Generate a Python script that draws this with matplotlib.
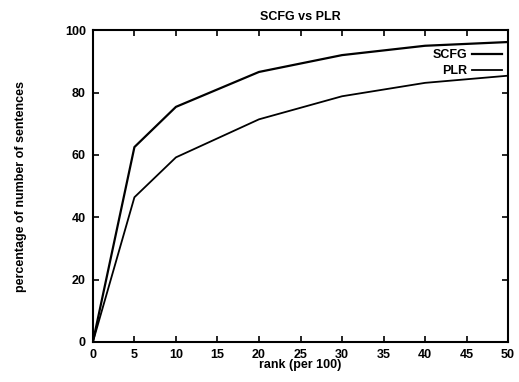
import matplotlib
matplotlib.use('Agg')
import matplotlib.pyplot as plt

# Values
rank = [0, 5, 10, 20, 30, 40, 50]
scfg = [0, 62.5, 75.4, 86.6, 92.0, 95.0, 96.2]
plr = [0, 46.4, 59.2, 71.4, 78.8, 83.1, 85.4]
x_ticks = list(range(0, 51, 5))
y_ticks = list(range(0, 101, 20))

plt.rcParams['font.family'] = ['Liberation Sans', 'DejaVu Sans']
plt.rcParams['font.weight'] = 'bold'

fig = plt.figure(figsize=(5.19, 3.82), dpi=100)
ax = fig.add_axes([0.179, 0.105, 0.800, 0.816])

ax.plot(rank, scfg, color='black', linewidth=1.6, label='SCFG')
ax.plot(rank, plr, color='black', linewidth=1.3, label='PLR')

ax.set_xlim(0, 50)
ax.set_ylim(0, 100)
ax.set_xticks(x_ticks)
ax.set_yticks(y_ticks)
ax.tick_params(direction='in', top=True, right=True, length=4, width=1.2,
               labelsize=9, pad=5)
for lbl in ax.get_xticklabels() + ax.get_yticklabels():
    lbl.set_fontweight('bold')
for s in ax.spines.values():
    s.set_linewidth(1.5)

ax.set_title('SCFG vs PLR', fontsize=9, fontweight='bold', pad=7)
ax.set_xlabel('rank (per 100)', fontsize=9, fontweight='bold', labelpad=-1)
ax.set_ylabel('percentage of number of sentences', fontsize=9,
              fontweight='bold', labelpad=27)

leg = ax.legend(loc='upper right', bbox_to_anchor=(0.985, 0.94),
                frameon=False, markerfirst=False, fontsize=9,
                handlelength=2.4, handletextpad=0.4, labelspacing=0.35,
                borderaxespad=0, borderpad=0)
for t in leg.get_texts():
    t.set_fontweight('bold')

fig.savefig('out.png', dpi=100)
